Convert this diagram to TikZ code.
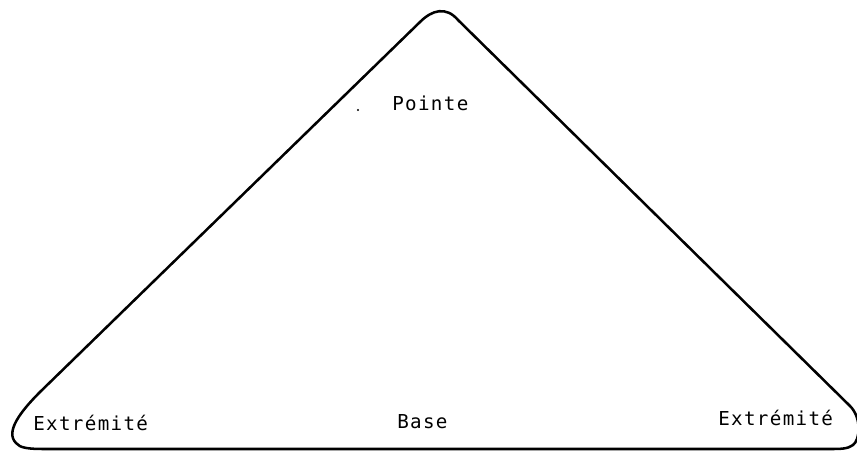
\documentclass[tikz,border=0pt]{standalone}
\usepackage{fontspec}
\newfontfamily\twfont[LetterSpace=7]{DejaVu Sans Mono}
\begin{document}
\begin{tikzpicture}[x=0.75pt,y=-0.75pt,
  lbl/.style={anchor=base west,inner sep=0pt,font=\twfont\fontsize{14.4}{16}\selectfont},
  outline/.style={line width=1.9pt,line join=round,line cap=round}]
\useasboundingbox (0,0) rectangle (857,452);
\draw[outline] (420,22) .. controls (432,10) and (446,6) .. (458,20)
  -- (850,406) .. controls (862,418) and (860,440) .. (853,445)
  .. controls (848,449) and (840,449) .. (830,449)
  -- (45,449) .. controls (28,449) and (20,448) .. (16,443)
  .. controls (5,432) and (20,412) .. (40,392) -- cycle;
\node[lbl] (pointe) at (392,111) {Pointe};
\node[lbl] (extl) at (33,430) {Extrémité};
\node[lbl] (base) at (397,428) {Base};
\node[lbl] (extr) at (718,426) {Extrémité};
\fill (358,110) circle (1.1);
\end{tikzpicture}
\end{document}
